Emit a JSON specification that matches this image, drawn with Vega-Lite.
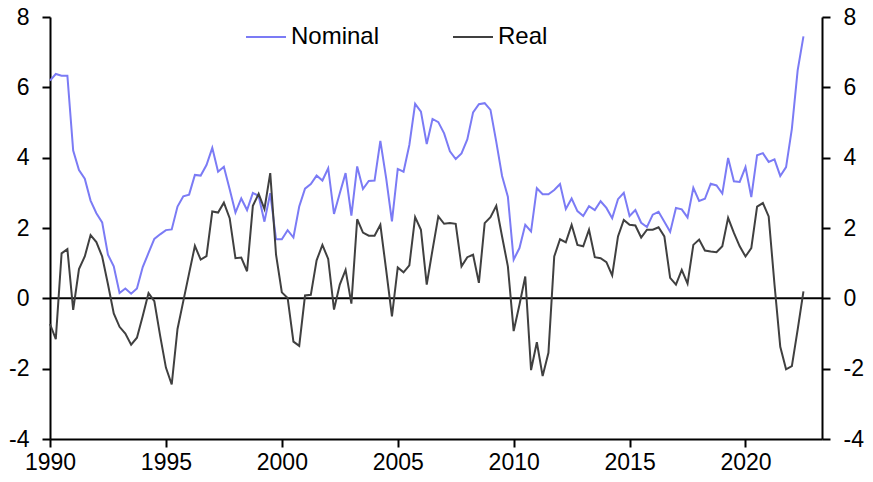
{
  "$schema": "https://vega.github.io/schema/vega-lite/v6.json",
  "width": 772,
  "height": 422,
  "autosize": {"type": "none"},
  "padding": {"left": 50, "top": 17, "right": 51, "bottom": 43},
  "background": "white",
  "config": {
    "view": {"stroke": null},
    "font": "Liberation Sans",
    "axis": {"grid": false, "domainColor": "black", "domainWidth": 2, "tickColor": "black", "tickWidth": 2, "tickSize": 8, "ticks": true, "labelColor": "black", "labelFontSize": 23, "labelFont": "Liberation Sans", "labelFlush": false, "title": null, "labelExpr": "datum.value + ''"}
  },
  "datasets": {
    "rates": [
      {"t":1990.00,"Nominal":6.19,"Real":-0.73},{"t":1990.25,"Nominal":6.38,"Real":-1.16},{"t":1990.50,"Nominal":6.33,"Real":1.28},{"t":1990.75,"Nominal":6.33,"Real":1.40},
      {"t":1991.00,"Nominal":4.20,"Real":-0.33},{"t":1991.25,"Nominal":3.65,"Real":0.83},{"t":1991.50,"Nominal":3.40,"Real":1.19},{"t":1991.75,"Nominal":2.78,"Real":1.80},
      {"t":1992.00,"Nominal":2.42,"Real":1.60},{"t":1992.25,"Nominal":2.16,"Real":1.19},{"t":1992.50,"Nominal":1.24,"Real":0.40},{"t":1992.75,"Nominal":0.91,"Real":-0.43},
      {"t":1993.00,"Nominal":0.15,"Real":-0.81},{"t":1993.25,"Nominal":0.28,"Real":-1.00},{"t":1993.50,"Nominal":0.13,"Real":-1.32},{"t":1993.75,"Nominal":0.28,"Real":-1.12},
      {"t":1994.00,"Nominal":0.89,"Real":-0.50},{"t":1994.25,"Nominal":1.29,"Real":0.15},{"t":1994.50,"Nominal":1.69,"Real":-0.08},{"t":1994.75,"Nominal":1.82,"Real":-1.06},
      {"t":1995.00,"Nominal":1.94,"Real":-1.97},{"t":1995.25,"Nominal":1.96,"Real":-2.45},{"t":1995.50,"Nominal":2.61,"Real":-0.87},{"t":1995.75,"Nominal":2.90,"Real":-0.08},
      {"t":1996.00,"Nominal":2.95,"Real":0.71},{"t":1996.25,"Nominal":3.51,"Real":1.49},{"t":1996.50,"Nominal":3.49,"Real":1.10},{"t":1996.75,"Nominal":3.79,"Real":1.20},
      {"t":1997.00,"Nominal":4.28,"Real":2.47},{"t":1997.25,"Nominal":3.60,"Real":2.44},{"t":1997.50,"Nominal":3.74,"Real":2.72},{"t":1997.75,"Nominal":3.10,"Real":2.28},
      {"t":1998.00,"Nominal":2.44,"Real":1.14},{"t":1998.25,"Nominal":2.84,"Real":1.16},{"t":1998.50,"Nominal":2.51,"Real":0.77},{"t":1998.75,"Nominal":3.00,"Real":2.63},
      {"t":1999.00,"Nominal":2.91,"Real":2.97},{"t":1999.25,"Nominal":2.18,"Real":2.54},{"t":1999.50,"Nominal":2.99,"Real":3.56},{"t":1999.75,"Nominal":1.68,"Real":1.24},
      {"t":2000.00,"Nominal":1.68,"Real":0.17},{"t":2000.25,"Nominal":1.94,"Real":0.01},{"t":2000.50,"Nominal":1.73,"Real":-1.23},{"t":2000.75,"Nominal":2.61,"Real":-1.35},
      {"t":2001.00,"Nominal":3.12,"Real":0.08},{"t":2001.25,"Nominal":3.25,"Real":0.10},{"t":2001.50,"Nominal":3.49,"Real":1.08},{"t":2001.75,"Nominal":3.35,"Real":1.52},
      {"t":2002.00,"Nominal":3.70,"Real":1.12},{"t":2002.25,"Nominal":2.40,"Real":-0.32},{"t":2002.50,"Nominal":2.99,"Real":0.39},{"t":2002.75,"Nominal":3.56,"Real":0.81},
      {"t":2003.00,"Nominal":2.35,"Real":-0.15},{"t":2003.25,"Nominal":3.75,"Real":2.25},{"t":2003.50,"Nominal":3.11,"Real":1.87},{"t":2003.75,"Nominal":3.34,"Real":1.78},
      {"t":2004.00,"Nominal":3.35,"Real":1.78},{"t":2004.25,"Nominal":4.48,"Real":2.09},{"t":2004.50,"Nominal":3.42,"Real":0.81},{"t":2004.75,"Nominal":2.19,"Real":-0.51},
      {"t":2005.00,"Nominal":3.68,"Real":0.88},{"t":2005.25,"Nominal":3.60,"Real":0.74},{"t":2005.50,"Nominal":4.36,"Real":0.94},{"t":2005.75,"Nominal":5.53,"Real":2.31},
      {"t":2006.00,"Nominal":5.31,"Real":1.95},{"t":2006.25,"Nominal":4.39,"Real":0.39},{"t":2006.50,"Nominal":5.10,"Real":1.38},{"t":2006.75,"Nominal":5.01,"Real":2.33},
      {"t":2007.00,"Nominal":4.69,"Real":2.12},{"t":2007.25,"Nominal":4.18,"Real":2.14},{"t":2007.50,"Nominal":3.96,"Real":2.12},{"t":2007.75,"Nominal":4.12,"Real":0.91},
      {"t":2008.00,"Nominal":4.52,"Real":1.17},{"t":2008.25,"Nominal":5.29,"Real":1.24},{"t":2008.50,"Nominal":5.52,"Real":0.44},{"t":2008.75,"Nominal":5.55,"Real":2.14},
      {"t":2009.00,"Nominal":5.36,"Real":2.31},{"t":2009.25,"Nominal":4.45,"Real":2.63},{"t":2009.50,"Nominal":3.48,"Real":1.76},{"t":2009.75,"Nominal":2.89,"Real":0.91},
      {"t":2010.00,"Nominal":1.10,"Real":-0.93},{"t":2010.25,"Nominal":1.43,"Real":-0.18},{"t":2010.50,"Nominal":2.09,"Real":0.62},{"t":2010.75,"Nominal":1.90,"Real":-2.04},
      {"t":2011.00,"Nominal":3.13,"Real":-1.25},{"t":2011.25,"Nominal":2.96,"Real":-2.21},{"t":2011.50,"Nominal":2.96,"Real":-1.55},{"t":2011.75,"Nominal":3.08,"Real":1.19},
      {"t":2012.00,"Nominal":3.25,"Real":1.68},{"t":2012.25,"Nominal":2.54,"Real":1.59},{"t":2012.50,"Nominal":2.84,"Real":2.09},{"t":2012.75,"Nominal":2.48,"Real":1.52},
      {"t":2013.00,"Nominal":2.34,"Real":1.48},{"t":2013.25,"Nominal":2.62,"Real":1.95},{"t":2013.50,"Nominal":2.51,"Real":1.17},{"t":2013.75,"Nominal":2.76,"Real":1.14},
      {"t":2014.00,"Nominal":2.57,"Real":1.03},{"t":2014.25,"Nominal":2.28,"Real":0.65},{"t":2014.50,"Nominal":2.82,"Real":1.76},{"t":2014.75,"Nominal":3.00,"Real":2.23},
      {"t":2015.00,"Nominal":2.34,"Real":2.09},{"t":2015.25,"Nominal":2.51,"Real":2.07},{"t":2015.50,"Nominal":2.15,"Real":1.73},{"t":2015.75,"Nominal":2.03,"Real":1.95},
      {"t":2016.00,"Nominal":2.38,"Real":1.95},{"t":2016.25,"Nominal":2.46,"Real":2.02},{"t":2016.50,"Nominal":2.18,"Real":1.76},{"t":2016.75,"Nominal":1.89,"Real":0.58},
      {"t":2017.00,"Nominal":2.57,"Real":0.39},{"t":2017.25,"Nominal":2.53,"Real":0.81},{"t":2017.50,"Nominal":2.30,"Real":0.42},{"t":2017.75,"Nominal":3.14,"Real":1.52},
      {"t":2018.00,"Nominal":2.77,"Real":1.67},{"t":2018.25,"Nominal":2.83,"Real":1.36},{"t":2018.50,"Nominal":3.26,"Real":1.33},{"t":2018.75,"Nominal":3.21,"Real":1.31},
      {"t":2019.00,"Nominal":2.98,"Real":1.48},{"t":2019.25,"Nominal":3.99,"Real":2.29},{"t":2019.50,"Nominal":3.33,"Real":1.86},{"t":2019.75,"Nominal":3.31,"Real":1.48},
      {"t":2020.00,"Nominal":3.73,"Real":1.19},{"t":2020.25,"Nominal":2.88,"Real":1.43},{"t":2020.50,"Nominal":4.07,"Real":2.61},{"t":2020.75,"Nominal":4.13,"Real":2.71},
      {"t":2021.00,"Nominal":3.88,"Real":2.33},{"t":2021.25,"Nominal":3.95,"Real":0.40},{"t":2021.50,"Nominal":3.48,"Real":-1.38},{"t":2021.75,"Nominal":3.73,"Real":-2.02},
      {"t":2022.00,"Nominal":4.82,"Real":-1.93},{"t":2022.25,"Nominal":6.48,"Real":-0.89},{"t":2022.50,"Nominal":7.45,"Real":0.20}
    ],
    "zero": [{"z": 0}]
  },
  "layer": [
    {
      "data": {"name": "zero"},
      "mark": {"type": "rule", "color": "black", "strokeWidth": 2},
      "encoding": {
        "y": {"field": "z", "type": "quantitative", "scale": {"domain": [-4, 8], "nice": false, "zero": false},
              "axis": {"orient": "right", "values": [-4, -2, 0, 2, 4, 6, 8], "labelPadding": 13}}
      }
    },
    {
      "data": {"name": "rates"},
      "transform": [{"fold": ["Nominal", "Real"], "as": ["series", "value"]}],
      "mark": {"type": "line", "strokeWidth": 2},
      "encoding": {
        "x": {"field": "t", "type": "quantitative", "scale": {"domain": [1990, 2023.3], "nice": false, "zero": false},
              "axis": {"values": [1990, 1995, 2000, 2005, 2010, 2015, 2020], "labelPadding": 4}},
        "y": {"field": "value", "type": "quantitative", "scale": {"domain": [-4, 8], "nice": false, "zero": false},
              "axis": {"orient": "left", "values": [-4, -2, 0, 2, 4, 6, 8], "labelPadding": 13}},
        "color": {"field": "series", "type": "nominal",
                  "scale": {"domain": ["Nominal", "Real"], "range": ["#7b7bf5", "#404040"]},
                  "legend": {"title": null, "orient": "none", "legendX": 195, "legendY": -1, "direction": "horizontal",
                             "symbolType": "stroke", "symbolSize": 1600, "symbolStrokeWidth": 2, "labelFontSize": 24,
                             "labelFont": "Liberation Sans", "labelColor": "black", "labelOffset": 4, "columnPadding": 69, "padding": 0}}
      }
    }
  ],
  "resolve": {"axis": {"y": "independent"}}
}
